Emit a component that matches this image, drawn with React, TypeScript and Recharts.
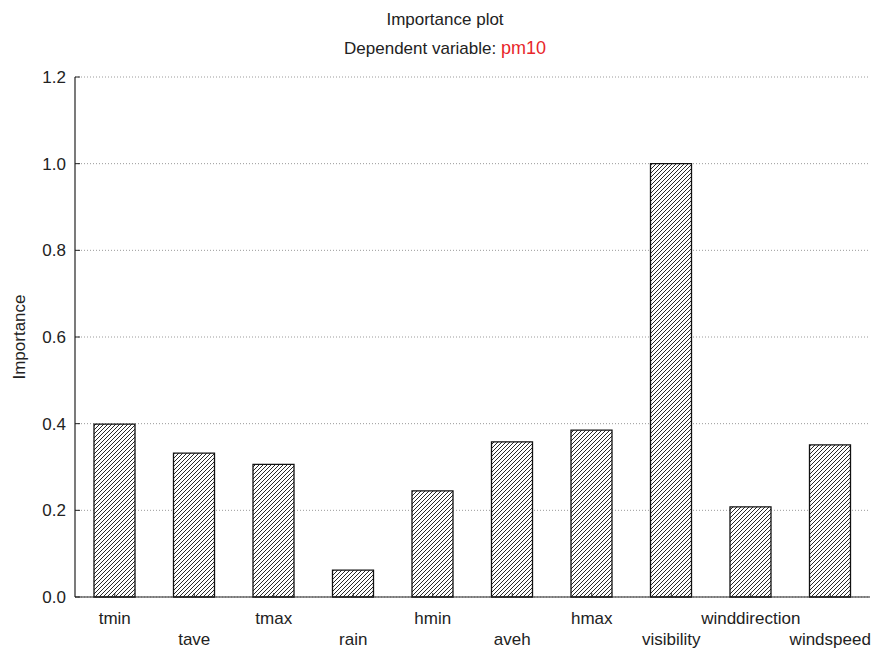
import { BarChart, Bar, XAxis, YAxis, CartesianGrid } from "recharts";

const CATEGORIES = [
  "tmin",
  "tave",
  "tmax",
  "rain",
  "hmin",
  "aveh",
  "hmax",
  "visibility",
  "winddirection",
  "windspeed",
];
const IMPORTANCE = [0.399, 0.332, 0.306, 0.062, 0.245, 0.358, 0.385, 1.0, 0.208, 0.351];
const Y_TICKS = [0, 0.2, 0.4, 0.6, 0.8, 1.0, 1.2];

const FONT = '"Liberation Sans", Arial, sans-serif';
const INK = "#222";

const data = CATEGORIES.map((name, i) => ({ name, value: IMPORTANCE[i] }));

// bottom labels alternate between two rows, with a short inward tick
function BottomTick(props: any) {
  const { x, y, payload, index } = props;
  const row = index % 2;
  return (
    <g>
      <line x1={x} y1={y} x2={x} y2={y - 4} stroke={INK} strokeWidth={1} />
      <text
        x={x}
        y={y + (row === 0 ? 27 : 48)}
        textAnchor="middle"
        fontFamily={FONT}
        fontSize={17}
        fill={INK}
      >
        {payload.value}
      </text>
    </g>
  );
}

function LeftTick(props: any) {
  const { x, y, payload } = props;
  return (
    <g>
      <line x1={x} y1={y} x2={x + 5} y2={y} stroke={INK} strokeWidth={1} />
      <text
        x={x - 9}
        y={y + 6}
        textAnchor="end"
        fontFamily={FONT}
        fontSize={17}
        fill={INK}
      >
        {Number(payload.value).toFixed(1)}
      </text>
    </g>
  );
}

function YTitle(props: any) {
  const { viewBox } = props;
  const cy = viewBox.y + viewBox.height / 2;
  return (
    <text
      x={19}
      y={cy}
      transform={`rotate(-90 19 ${cy})`}
      textAnchor="middle"
      dominantBaseline="central"
      fontFamily={FONT}
      fontSize={17}
      fill={INK}
    >
      Importance
    </text>
  );
}

export default function App() {
  return (
    <div
      style={{
        position: "absolute",
        left: 0,
        top: 0,
        width: 875,
        height: 650,
        background: "#fff",
        fontFamily: FONT,
      }}
    >
      <div
        style={{
          position: "absolute",
          left: 0,
          width: 890,
          top: 6,
          textAlign: "center",
          fontSize: 17,
          color: INK,
          lineHeight: "28px",
        }}
      >
        <div>Importance plot</div>
        <div>
          Dependent variable: <span style={{ color: "#e8262a", fontSize: 18 }}>pm10</span>
        </div>
      </div>
      <BarChart
        width={875}
        height={650}
        data={data}
        margin={{ top: 77, right: 5, bottom: 0, left: 30 }}
        barSize={41}
      >
        <defs>
          <pattern id="hatch" patternUnits="userSpaceOnUse" width="4" height="4">
            <rect width="4" height="4" fill="#fff" />
            <path d="M-1,1 l2,-2 M0,4 l4,-4 M3,5 l2,-2" stroke="#111" strokeWidth={0.9} />
          </pattern>
        </defs>
        <CartesianGrid
          vertical={false}
          horizontal={true}
          stroke="#9a9a9a"
          strokeDasharray="1 2"
        />
        <XAxis
          dataKey="name"
          height={53}
          interval={0}
          tickLine={false}
          tickSize={0}
          tickMargin={0}
          axisLine={{ stroke: INK, strokeWidth: 1.2 }}
          tick={<BottomTick />}
        />
        <XAxis
          xAxisId="top"
          dataKey="name"
          orientation="top"
          height={0}
          mirror
          interval={0}
          tick={false}
          tickSize={4}
          tickLine={{ stroke: INK }}
          axisLine={{ stroke: INK, strokeWidth: 1.2 }}
        />
        <YAxis
          width={45}
          domain={[0, 1.2]}
          ticks={Y_TICKS}
          interval={0}
          tickLine={false}
          tickSize={0}
          tickMargin={0}
          axisLine={{ stroke: INK, strokeWidth: 1.2 }}
          tick={<LeftTick />}
          label={<YTitle />}
        />
        <YAxis
          yAxisId="right"
          orientation="right"
          width={0}
          mirror
          domain={[0, 1.2]}
          ticks={Y_TICKS}
          interval={0}
          tick={false}
          tickSize={5}
          tickLine={{ stroke: INK }}
          axisLine={{ stroke: INK, strokeWidth: 1.2 }}
        />
        <Bar
          dataKey="value"
          fill="url(#hatch)"
          stroke="#111"
          strokeWidth={1.3}
          isAnimationActive={false}
        />
      </BarChart>
    </div>
  );
}
